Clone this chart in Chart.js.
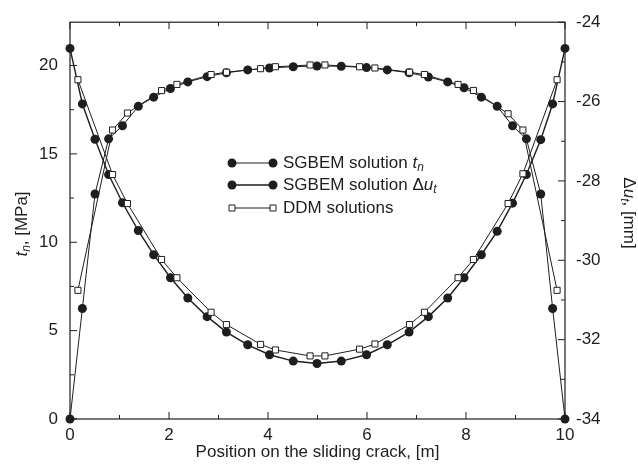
<!DOCTYPE html>
<html lang="en">
<head>
  <meta charset="UTF-8">
  <title>SGBEM vs DDM</title>
  <style>
    body {
      margin: 0;
      background-color: #ffffff;
    }
    #wrap {
      width: 638px;
      height: 471px;
    }
  </style>
</head>
<body>
  <div id="wrap">
    <canvas id="chartCanvas" width="638" height="471"></canvas>
  </div>

  <script src="https://cdn.jsdelivr.net/npm/chart.js"></script>
  <script>
    // positions along the crack [m]
    const xSgbem = [0, 0.25, 0.505, 0.78, 1.06, 1.38, 1.69, 2.03, 2.38, 2.77, 3.16, 3.59, 4.03, 4.51, 4.99,
                    5.48, 5.99, 6.41, 6.85, 7.24, 7.63, 7.96, 8.31, 8.63, 8.94, 9.22, 9.51, 9.75, 10];
    const xDdm = [0.16, 0.86, 1.16, 1.85, 2.16, 2.85, 3.16, 3.85, 4.15, 4.85,
                  5.15, 5.85, 6.16, 6.86, 7.16, 7.84, 8.15, 8.85, 9.15, 9.84];

    // normal traction t_n [MPa] (left axis)
    const tnSgbem = [0, 6.25, 12.73, 15.85, 16.59, 17.69, 18.21, 18.70, 19.07, 19.37, 19.59, 19.75, 19.86, 19.93, 19.97,
                     19.96, 19.88, 19.75, 19.59, 19.35, 19.07, 18.74, 18.21, 17.69, 16.59, 15.85, 12.73, 6.25, 0];
    const tnDdm = [7.28, 16.35, 17.31, 18.58, 18.93, 19.49, 19.62, 19.82, 19.93, 20.03,
                   20.03, 19.93, 19.86, 19.62, 19.49, 18.93, 18.59, 17.27, 16.35, 7.28];

    // sliding displacement Δu_t [mm] (right axis)
    const duSgbem = [-24.66, -26.06, -26.95, -27.84, -28.55, -29.25, -29.86, -30.44, -30.95, -31.42, -31.81, -32.13, -32.38, -32.54, -32.60,
                     -32.54, -32.38, -32.13, -31.81, -31.42, -30.95, -30.44, -29.86, -29.27, -28.56, -27.84, -26.96, -26.06, -24.66];
    const duDdm = [-25.45, -27.84, -28.57, -29.98, -30.44, -31.31, -31.62, -32.12, -32.26, -32.41,
                   -32.41, -32.24, -32.11, -31.62, -31.31, -30.44, -29.98, -28.57, -27.82, -25.45];

    const xTicks = [0, 2, 4, 6, 8, 10];
    const leftTicks = [0, 5, 10, 15, 20];
    const rightTicks = [-34, -32, -30, -28, -26, -24];

    const INK = '#1e1e1e';
    const FONT = "'Liberation Sans', Arial, sans-serif";

    const pts = (xs, ys) => xs.map((x, i) => ({ x: x, y: ys[i] }));

    function richWidth(ctx, parts, size) {
      let w = 0;
      parts.forEach(p => {
        const s = p.sub ? size * 0.7 : size;
        ctx.font = (p.italic ? 'italic ' : '') + s + 'px ' + FONT;
        w += ctx.measureText(p.t).width;
      });
      return w;
    }

    function drawRich(ctx, parts, x, y, size) {
      let cx = x;
      parts.forEach(p => {
        const s = p.sub ? size * 0.7 : size;
        ctx.font = (p.italic ? 'italic ' : '') + s + 'px ' + FONT;
        ctx.fillText(p.t, cx, p.sub ? y + size * 0.3 : y);
        cx += ctx.measureText(p.t).width;
      });
    }

    const tnLabel = [{ t: 'SGBEM solution ' }, { t: 't', italic: true }, { t: 'n', italic: true, sub: true }];
    const duLabel = [{ t: 'SGBEM solution \u0394' }, { t: 'u', italic: true }, { t: 't', italic: true, sub: true }];
    const ddmLabel = [{ t: 'DDM solutions' }];
    const leftTitle = [{ t: 't', italic: true }, { t: 'n', italic: true, sub: true }, { t: ', [MPa]' }];
    const rightTitle = [{ t: '\u0394' }, { t: 'u', italic: true }, { t: 't', italic: true, sub: true }, { t: ', [mm]' }];

    const decor = {
      id: 'decor',
      afterDraw(chart) {
        const ctx = chart.ctx;
        const a = chart.chartArea;
        const sx = chart.scales.x, sy = chart.scales.y, sy2 = chart.scales.y2;
        ctx.save();
        ctx.strokeStyle = INK;
        ctx.lineWidth = 1.2;
        ctx.strokeRect(a.left, a.top, a.right - a.left, a.bottom - a.top);

        ctx.lineWidth = 1;
        ctx.beginPath();
        for (let v = 0; v <= 10; v++) {
          const px = sx.getPixelForValue(v);
          const len = v % 2 === 0 ? 7 : 4;
          ctx.moveTo(px, a.bottom); ctx.lineTo(px, a.bottom - len);
          ctx.moveTo(px, a.top); ctx.lineTo(px, a.top + len);
        }
        for (let v = 0; v <= 22.45; v += 2.5) {
          const py = sy.getPixelForValue(v);
          const len = v % 5 === 0 ? 7 : 4;
          ctx.moveTo(a.left, py); ctx.lineTo(a.left + len, py);
        }
        for (let v = -34; v <= -24; v++) {
          const py = sy2.getPixelForValue(v);
          const len = v % 2 === 0 ? 7 : 4;
          ctx.moveTo(a.right, py); ctx.lineTo(a.right - len, py);
        }
        ctx.stroke();

        // axis titles
        ctx.fillStyle = INK;
        ctx.textBaseline = 'middle';
        ctx.textAlign = 'left';
        ctx.font = '17px ' + FONT;
        const xt = 'Position on the sliding crack, [m]';
        const xw = ctx.measureText(xt).width;
        ctx.fillText(xt, (a.left + a.right) / 2 - xw / 2, 452);

        let w = richWidth(ctx, leftTitle, 17);
        ctx.save();
        ctx.translate(22, 224);
        ctx.rotate(-Math.PI / 2);
        drawRich(ctx, leftTitle, -w / 2, 0, 17);
        ctx.restore();

        w = richWidth(ctx, rightTitle, 17);
        ctx.save();
        ctx.translate(629, 213);
        ctx.rotate(Math.PI / 2);
        drawRich(ctx, rightTitle, -w / 2, 0, 17);
        ctx.restore();

        // legend
        const rows = [
          { y: 163, parts: tnLabel, lw: 1, square: false },
          { y: 185, parts: duLabel, lw: 1.6, square: false },
          { y: 208, parts: ddmLabel, lw: 1, square: true }
        ];
        rows.forEach(r => {
          ctx.strokeStyle = INK;
          ctx.lineWidth = r.lw;
          ctx.beginPath();
          ctx.moveTo(232, r.y); ctx.lineTo(273, r.y);
          ctx.stroke();
          [232, 273].forEach(mx => {
            ctx.beginPath();
            if (r.square) {
              ctx.fillStyle = '#ffffff';
              ctx.lineWidth = 1;
              ctx.rect(mx - 3, r.y - 3, 6, 6);
              ctx.fill();
              ctx.stroke();
            } else {
              ctx.fillStyle = INK;
              ctx.arc(mx, r.y, 4.5, 0, Math.PI * 2);
              ctx.fill();
            }
          });
          ctx.fillStyle = INK;
          drawRich(ctx, r.parts, 283, r.y, 17);
        });
        ctx.restore();
      }
    };

    const tickFont = { family: FONT, size: 17 };

    new Chart(document.getElementById('chartCanvas'), {
      type: 'line',
      data: {
        datasets: [
          {
            label: 'DDM t_n', data: pts(xDdm, tnDdm), yAxisID: 'y', order: 0,
            borderColor: INK, borderWidth: 1, pointStyle: 'rect', pointRadius: 4.3,
            pointBackgroundColor: '#ffffff', pointBorderColor: INK, pointBorderWidth: 1
          },
          {
            label: 'DDM du_t', data: pts(xDdm, duDdm), yAxisID: 'y2', order: 0,
            borderColor: INK, borderWidth: 1, pointStyle: 'rect', pointRadius: 4.3,
            pointBackgroundColor: '#ffffff', pointBorderColor: INK, pointBorderWidth: 1
          },
          {
            label: 'SGBEM t_n', data: pts(xSgbem, tnSgbem), yAxisID: 'y', order: 1,
            borderColor: INK, borderWidth: 1, pointRadius: 4.5,
            pointBackgroundColor: INK, pointBorderColor: INK, pointBorderWidth: 0
          },
          {
            label: 'SGBEM du_t', data: pts(xSgbem, duSgbem), yAxisID: 'y2', order: 1,
            borderColor: INK, borderWidth: 1.4, pointRadius: 4.5,
            pointBackgroundColor: INK, pointBorderColor: INK, pointBorderWidth: 0
          }
        ]
      },
      options: {
        responsive: false,
        animation: false,
        clip: false,
        layout: { padding: { top: 12, left: 0, right: 0, bottom: 0 } },
        plugins: { legend: { display: false }, tooltip: { enabled: false } },
        scales: {
          x: {
            type: 'linear', min: 0, max: 10,
            afterFit: s => { s.height = 52; },
            afterBuildTicks: s => { s.ticks = xTicks.map(v => ({ value: v })); },
            grid: { display: false, drawTicks: false },
            border: { display: false },
            ticks: { color: INK, font: tickFont, padding: 6, maxRotation: 0 }
          },
          y: {
            type: 'linear', position: 'left', min: 0, max: 22.45,
            afterFit: s => { s.width = 70; },
            afterBuildTicks: s => { s.ticks = leftTicks.map(v => ({ value: v })); },
            grid: { display: false, drawTicks: false },
            border: { display: false },
            ticks: { color: INK, font: tickFont, padding: 12 }
          },
          y2: {
            type: 'linear', position: 'right', min: -34, max: -24,
            afterFit: s => { s.width = 73; },
            afterBuildTicks: s => { s.ticks = rightTicks.map(v => ({ value: v })); },
            grid: { display: false, drawTicks: false },
            border: { display: false },
            ticks: { color: INK, font: tickFont, padding: 11 }
          }
        }
      },
      plugins: [decor]
    });
  </script>
</body>
</html>
